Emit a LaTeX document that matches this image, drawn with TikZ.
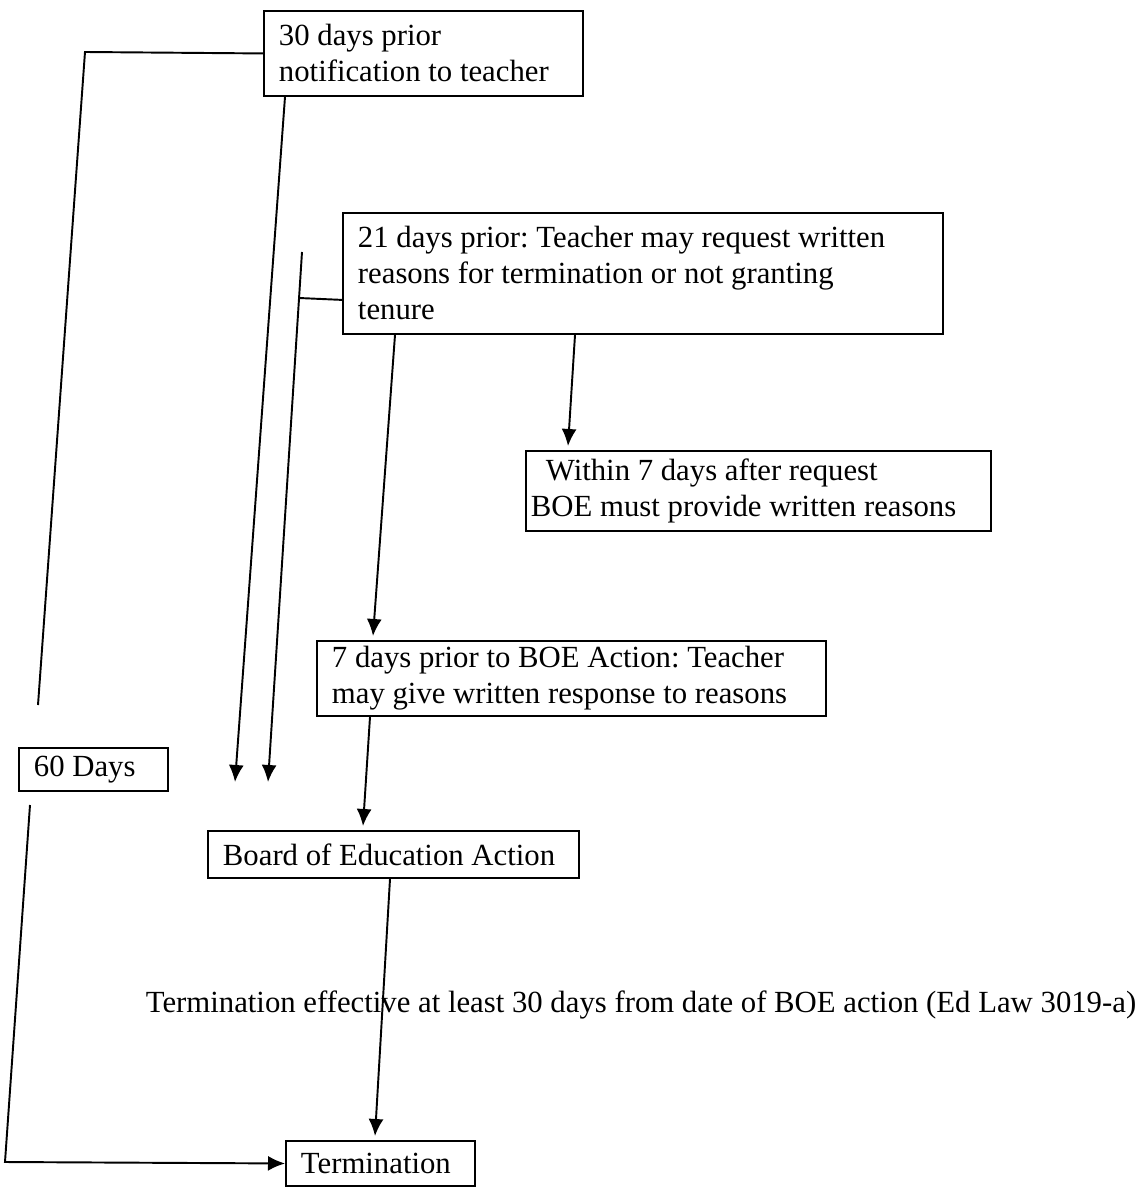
\documentclass[tikz,border=0pt]{standalone}
\usepackage{fontspec}
\setmainfont{Liberation Serif}
\usetikzlibrary{arrows.meta,calc}
\frenchspacing

\tikzset{
	box/.style = {draw, line width=1.1pt, align=flush left, inner xsep=0.3cm, inner ysep=0.05cm, anchor=north west},
	link/.style = {line width=1.1pt},
	tolink/.style = {line width=1.1pt, arrows={-Latex[length=0.34cm, width=0.3cm]}},
}

\begin{document}
\begin{tikzpicture}[x=0.02cm, y=-0.02cm, font=\fontsize{17.5}{20.5}\selectfont]
		\useasboundingbox (0,0) rectangle (1142,1195);

		% boxes
		\node [box, text width=5.78cm, minimum height=1.7cm] (prior30) at (263,10) {30 days prior\\notification to teacher};
		\node [box, text width=11.4cm, minimum height=2.42cm] (prior21) at (342,212) {21 days prior: Teacher may request written\\reasons for termination or not granting\\tenure};
		\node [box, inner xsep=0.1cm, text width=9.1cm, minimum height=1.6cm] (within7) at (525,450) {\hspace*{0.3cm}Within 7 days after request\\BOE must provide written reasons};
		\node [box, text width=9.58cm, minimum height=1.5cm] (prior7) at (316,640) {7 days prior to BOE Action: Teacher\\may give written response to reasons};
		\node [box, text width=2.38cm, minimum height=0.86cm] (days60) at (18,747) {60 Days};
		\node [box, text width=6.82cm, minimum height=0.94cm] (boe) at (207,830) {Board of Education Action};
		\node [box, text width=3.18cm, minimum height=0.9cm] (term) at (285,1140) {Termination};
		\node (effective) at (641,1005) {Termination effective at least 30 days from date of BOE action (Ed Law 3019-a)};

		% free ends of the lines
		\coordinate (top60) at (85,52);
		\coordinate (up60) at (38,705);
		\coordinate (down60) at (30,805);
		\coordinate (low60) at (5,1162);
		\coordinate (end30) at (235,782);
		\coordinate (brtop) at (302,252);
		\coordinate (brjoin) at (299,298);
		\coordinate (end21) at (268,782);

		% 60 days bracket
		\draw [link] (prior30.west) -- (top60) -- (up60);
		\draw [tolink] (down60) -- (low60) -- (term.west);

		% 30 days and 21 days
		\draw [tolink] ($(prior30.south west)+(22,0)$) -- (end30);
		\draw [tolink] (brtop) -- (end21);
		\draw [link] ($(prior21.south west)+(0,-35)$) -- (brjoin);

		% steps
		\draw [tolink] ($(prior21.south west)+(233,0)$) -- ($(within7.north west)+(43,-4)$);
		\draw [tolink] ($(prior21.south west)+(53,0)$) -- ($(prior7.north west)+(57,-4)$);
		\draw [tolink] ($(prior7.south west)+(54,0)$) -- ($(boe.north west)+(156,-4)$);
		\draw [tolink] ($(boe.south west)+(183,0)$) -- ($(term.north west)+(90,-4)$);
	\end{tikzpicture}
\end{document}
